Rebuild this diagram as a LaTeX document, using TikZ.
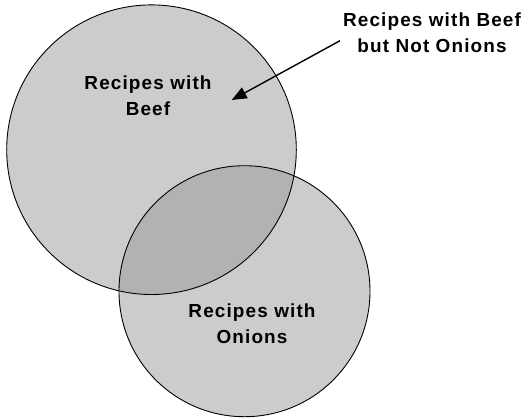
\documentclass[tikz,border=0pt]{standalone}
\usepackage{fontspec}
\setmainfont{Liberation Sans}[LetterSpace=6.0]
\usetikzlibrary{arrows.meta}
\definecolor{setfill}{gray}{0.80}
\definecolor{overlapfill}{gray}{0.70}
\begin{document}
\begin{tikzpicture}[x=1bp,y=-1bp,
  setcircle/.style={circle, draw=black, line width=0.9bp, inner sep=0pt},
  setlabel/.style={align=center, font=\fontsize{19}{25.3}\selectfont\bfseries, inner sep=0pt},
  pointer/.style={line width=1.4bp, -{Triangle[length=15bp,width=12bp]}}]
  \useasboundingbox (0,0) rectangle (528,418);
  % the two sets
  \def\beefc{(151.5,149.7) circle[radius=144.8]}
  \def\onionc{(244.5,291.2) circle[radius=125.5]}
  \fill[setfill] \beefc;
  \fill[setfill] \onionc;
  \begin{scope}
    \clip \beefc;
    \fill[overlapfill] \onionc;
  \end{scope}
  \node[setcircle, minimum size=289.6bp] (beef) at (151.5,149.7) {};
  \node[setcircle, minimum size=251bp] (onion) at (244.5,291.2) {};
  % labels (base anchor sits on the last line)
  \node[setlabel, anchor=base] (beeflbl) at (148,115) {Recipes with\\Beef};
  \node[setlabel, anchor=base] (onionlbl) at (252,343) {Recipes with\\Onions};
  \node[setlabel, anchor=base] (onlybeef) at (432,52) {Recipes with Beef\\but Not Onions};
  % pointer into the beef-only region
  \coordinate (ptrstart) at (340,40.7);
  \coordinate (ptrtip) at (231.7,100);
  \draw[pointer] (ptrstart) -- (ptrtip);
\end{tikzpicture}
\end{document}
